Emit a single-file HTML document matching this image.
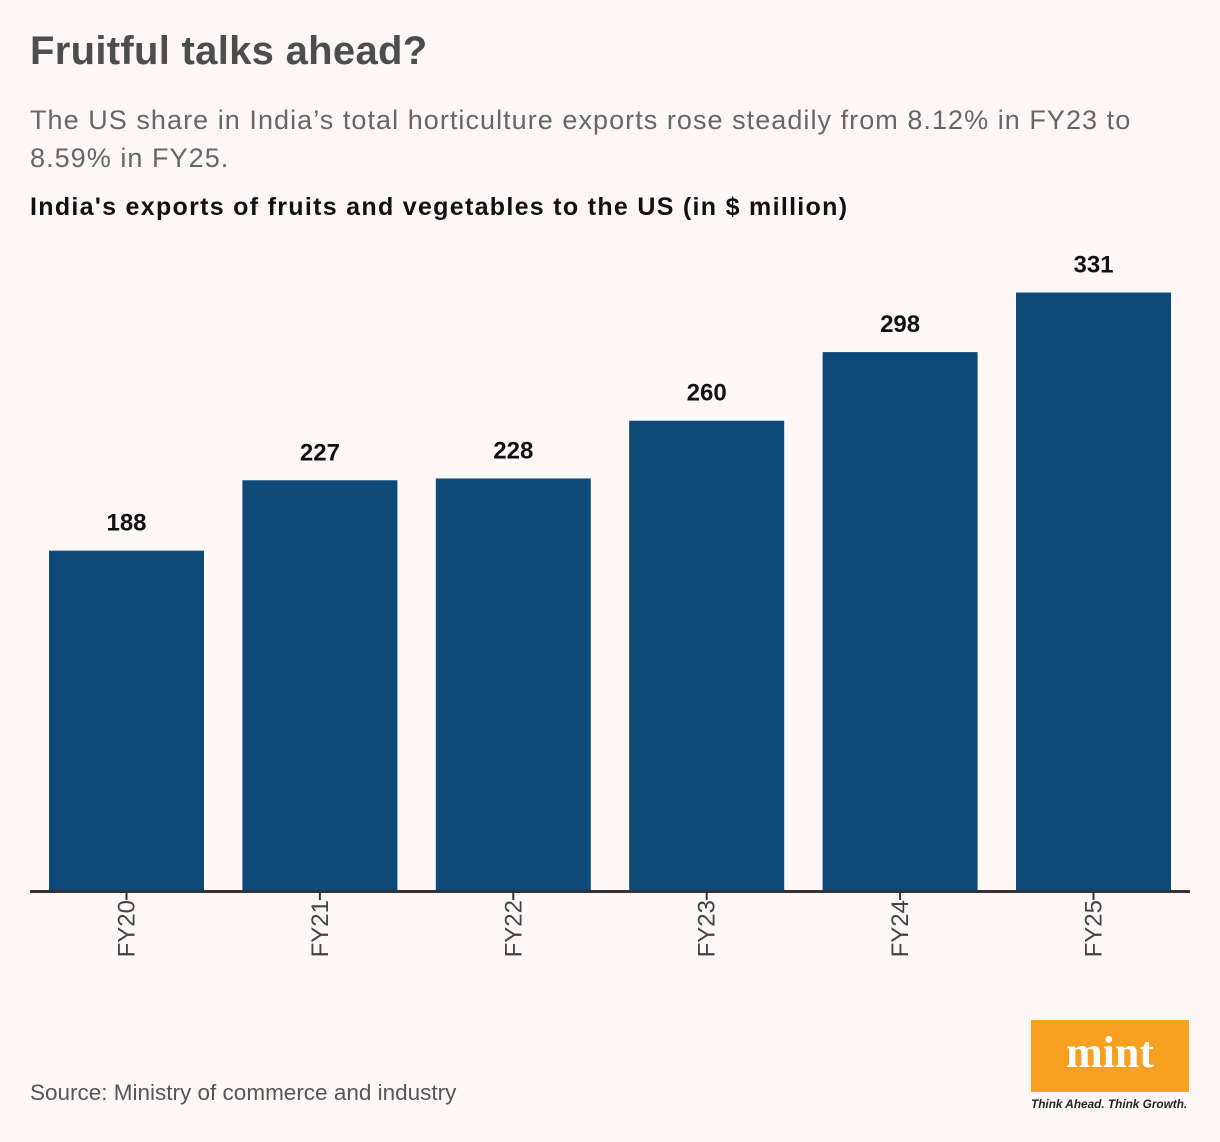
<!DOCTYPE html>
<html><head><meta charset="utf-8"><style>
body{margin:0;background:#fdf8f7;font-family:"Liberation Sans",sans-serif;}
#wrap{position:relative;width:1220px;height:1142px;overflow:hidden;}
.t{position:absolute;white-space:nowrap;}
</style></head><body>
<div id="wrap">
<div class="t" style="left:30px;top:29px;font-size:40px;font-weight:bold;color:#4d4d4d;letter-spacing:0.3px;">Fruitful talks ahead?</div>
<div class="t" style="left:30px;top:101px;font-size:27px;color:#666;line-height:38px;white-space:normal;width:1150px;letter-spacing:1.05px;">The US share in India’s total horticulture exports rose steadily from 8.12% in FY23 to 8.59% in FY25.</div>
<div class="t" style="left:30px;top:193px;font-size:25px;font-weight:bold;color:#111;letter-spacing:1.3px;">India's exports of fruits and vegetables to the US (in $ million)</div>
<svg id="chart" width="1220" height="1142" style="position:absolute;left:0;top:0;"></svg>
<div class="t" style="left:30px;top:1080px;font-size:22.5px;color:#555;">Source: Ministry of commerce and industry</div>
<div style="position:absolute;left:1031px;top:1020px;width:158px;height:72px;background:#f7a021;color:#fff;font-family:'Liberation Serif',serif;font-weight:bold;font-size:44px;text-align:center;line-height:66px;">mint</div>
<div class="t" style="left:1031px;top:1097px;font-size:11.8px;font-style:italic;color:#222;font-weight:bold;">Think Ahead. Think Growth.</div>
</div>
<script>
const categories=["FY20","FY21","FY22","FY23","FY24","FY25"];
const values=[188,227,228,260,298,331];
const svg=document.getElementById('chart');
const NS='http://www.w3.org/2000/svg';
const base=890, scale=1.805, x0=126.5, step=193.4, bw=155;
function xPos(i){return x0+i*step;}
function yPos(v){return base-v*scale;}
categories.forEach((c,i)=>{
  const cx=xPos(i), y=yPos(values[i]);
  const r=document.createElementNS(NS,'rect');
  r.setAttribute('x',cx-bw/2);r.setAttribute('y',y);r.setAttribute('width',bw);r.setAttribute('height',base-y);r.setAttribute('fill','#0d4a79');
  
  
  svg.appendChild(r);
  const t=document.createElementNS(NS,'text');
  t.setAttribute('x',cx);t.setAttribute('y',y-20);t.setAttribute('text-anchor','middle');
  t.setAttribute('font-size','24');t.setAttribute('font-weight','bold');t.setAttribute('fill','#111');
  t.textContent=values[i];
  
  
  svg.appendChild(t);
  const tk=document.createElementNS(NS,'line');
  tk.setAttribute('x1',cx);tk.setAttribute('x2',cx);tk.setAttribute('y1',base);tk.setAttribute('y2',base+10);
  tk.setAttribute('stroke','#333');tk.setAttribute('stroke-width','2');
  
  
  svg.appendChild(tk);
  const l=document.createElementNS(NS,'text');
  l.setAttribute('transform','translate('+(cx+8)+','+(base+10)+') rotate(-90)');
  l.setAttribute('text-anchor','end');l.setAttribute('font-size','24');l.setAttribute('fill','#444');
  l.textContent=c;
  
  
  svg.appendChild(l);
});
const ax=document.createElementNS(NS,'line');
ax.setAttribute('x1',30);ax.setAttribute('x2',1190);ax.setAttribute('y1',base+1.5);ax.setAttribute('y2',base+1.5);
ax.setAttribute('stroke','#333');ax.setAttribute('stroke-width','3');


svg.appendChild(ax);
</script>
</body></html>
